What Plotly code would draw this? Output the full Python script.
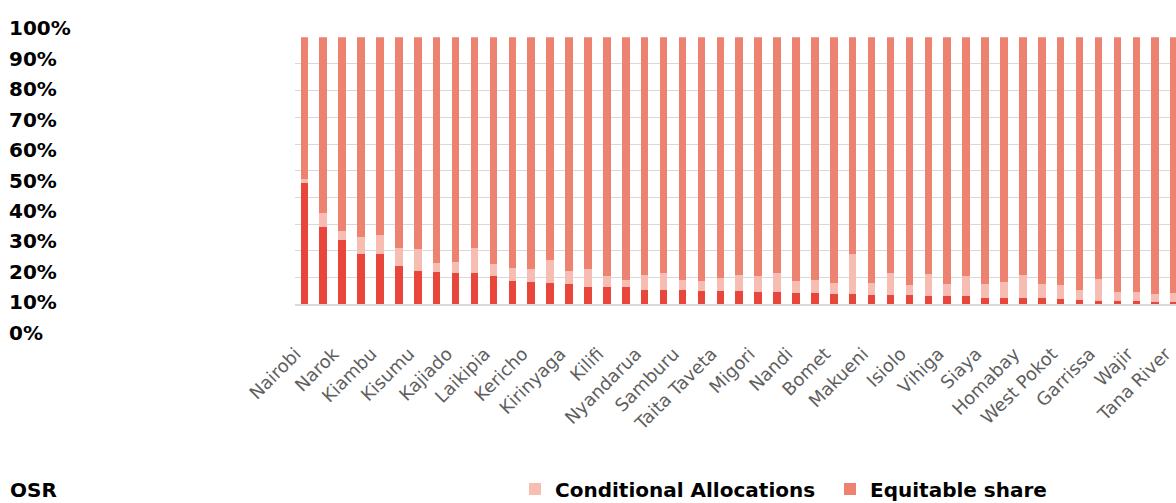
import plotly.graph_objects as go

# ---- data (shares in %) ----
bar_index = list(range(47))
osr = [45.6, 28.8, 24.1, 18.8, 18.8, 14.4, 12.5, 12.2, 11.8, 11.7, 10.6, 8.7, 8.3, 8.0, 7.7,
       6.6, 6.4, 6.4, 5.3, 5.3, 5.3, 4.9, 4.9, 4.9, 4.6, 4.6, 4.2, 4.1, 4.0, 3.7,
       3.6, 3.6, 3.5, 3.1, 3.1, 3.1, 2.5, 2.5, 2.4, 2.3, 1.9, 1.7, 1.4, 1.4, 1.2, 0.9, 0.7]
conditional = [1.5, 5.5, 3.4, 6.5, 7.0, 6.7, 8.1, 3.4, 4.0, 9.4, 4.6, 5.0, 4.8, 8.6, 4.8,
               6.5, 4.2, 2.7, 5.7, 6.3, 3.8, 3.9, 4.9, 5.9, 6.0, 7.2, 4.6, 5.0, 4.1, 15.1,
               4.3, 8.0, 3.6, 8.1, 4.5, 7.5, 5.1, 5.7, 8.6, 5.3, 5.2, 3.5, 8.2, 3.3, 3.5, 2.8, 3.4]
equitable = [52.9, 65.7, 72.5, 74.7, 74.2, 78.9, 79.4, 84.4, 84.2, 78.9, 84.8, 86.3, 86.9, 83.4, 87.5,
             86.9, 89.4, 90.9, 89.0, 88.4, 90.9, 91.2, 90.2, 89.2, 89.4, 88.2, 91.2, 90.9, 91.9, 81.2,
             92.1, 88.4, 92.9, 88.8, 92.4, 89.4, 92.4, 91.8, 89.0, 92.4, 92.9, 94.8, 90.4, 95.3, 95.3, 96.3, 95.9]
county_labels = ["Nairobi", "Narok", "Kiambu", "Kisumu", "Kajiado", "Laikipia", "Kericho", "Kirinyaga",
                 "Kilifi", "Nyandarua", "Samburu", "Taita Taveta", "Migori", "Nandi", "Bomet", "Makueni",
                 "Isiolo", "Vihiga", "Siaya", "Homabay", "West Pokot", "Garrissa", "Wajir", "Tana River"]
label_positions = bar_index[::2]
pct_values = list(range(0, 101, 10))
pct_labels = [f"{v}%" for v in pct_values]

W, H = 1176, 503
C_OSR = "#E8463A"
C_COND = "#F8BDB2"
C_EQ = "#EE8271"
LABEL_SHIFT = -0.45  # rotated label ends sit near the bar centre

fig = go.Figure()
fig.add_trace(go.Bar(x=bar_index, y=osr, name="OSR", marker_color=C_OSR,
                     marker_line_width=0, legend="legend"))
fig.add_trace(go.Bar(x=bar_index, y=conditional, name="Conditional Allocations", marker_color=C_COND,
                     marker_line_width=0, legend="legend2"))
fig.add_trace(go.Bar(x=bar_index, y=equitable, name="Equitable share", marker_color=C_EQ,
                     marker_line_width=0, legend="legend3"))
# helper (empty) trace for the left percentage label axis
fig.add_trace(go.Scatter(x=[], y=[], xaxis="x2", yaxis="y2", showlegend=False, hoverinfo="skip"))

legend_font = dict(family="DejaVu Sans", size=20, color="#000000", weight="bold")
common_leg = dict(orientation="h", yanchor="middle", y=14 / H, xanchor="left",
                  font=legend_font, bgcolor="rgba(0,0,0,0)", borderwidth=0)

fig.update_layout(
    width=W, height=H,
    margin=dict(l=0, r=0, t=0, b=0, pad=0, autoexpand=False),
    paper_bgcolor="white", plot_bgcolor="white",
    barmode="stack", bargap=0.6,
    xaxis=dict(domain=[294.85 / W, 1.0], range=[-0.5, 46.1],
               tickvals=[p + LABEL_SHIFT for p in label_positions], ticktext=county_labels,
               tickangle=-45, ticks="", ticklabelstandoff=30, ticklabeloverflow="allow",
               tickfont=dict(family="DejaVu Sans", size=18, color="#5f5f5f"),
               showgrid=False, showline=True, linecolor="#d9d9d9", linewidth=2,
               zeroline=False, automargin=False, fixedrange=True),
    yaxis=dict(domain=[(H - 304.3) / H, (H - 37.2) / H], range=[0, 100], dtick=10,
               showticklabels=False, ticks="", showgrid=True, gridcolor="#d9d9d9", gridwidth=1,
               zeroline=False, automargin=False, fixedrange=True),
    xaxis2=dict(domain=[0, 8 / W], anchor="y2", visible=False, range=[0, 1]),
    yaxis2=dict(domain=[(H - 332.7) / H, (H - 28.3) / H], anchor="x2", side="right",
                range=[0, 100], tickvals=pct_values, ticktext=pct_labels, ticks="",
                showgrid=False, zeroline=False, showline=False, automargin=False,
                tickfont=dict(family="DejaVu Sans", size=20, color="#000000", weight="bold")),
    legend=dict(x=(10 - 40) / W, **common_leg),
    legend2=dict(x=(555 - 40) / W, **common_leg),
    legend3=dict(x=(870 - 40) / W, **common_leg),
    showlegend=True,
)

fig.write_html("out.html")
